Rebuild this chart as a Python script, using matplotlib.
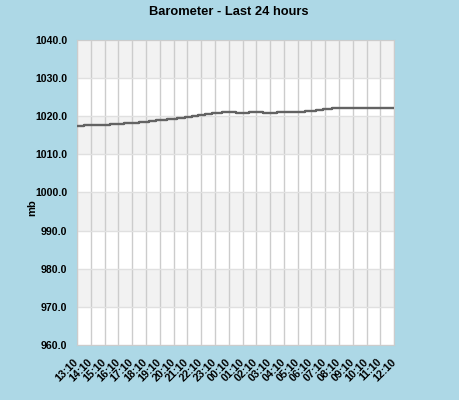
import matplotlib
matplotlib.use("Agg")
import matplotlib.pyplot as plt

# hours since 13:10 and pressure (mb)
hours = [0, 0.5, 2.4, 3.4, 4.5, 5.2, 5.75, 6.5, 7.25, 7.85, 8.35, 8.8, 9.3, 9.8,
         10.5, 11.5, 12.5, 13.5, 14.5, 16.5, 17.3, 17.8, 18.5, 23]
pressure = [1017.5, 1017.8, 1018.0, 1018.3, 1018.6, 1018.8, 1019.1, 1019.4, 1019.6,
            1019.9, 1020.1, 1020.4, 1020.7, 1020.9, 1021.2, 1020.9, 1021.2, 1020.9,
            1021.2, 1021.4, 1021.7, 1022.0, 1022.2, 1022.2]

tick_labels = ["13:10", "14:10", "15:10", "16:10", "17:10", "18:10", "19:10", "20:10",
               "21:10", "22:10", "23:10", "00:10", "01:10", "02:10", "03:10", "04:10",
               "05:10", "06:10", "07:10", "08:10", "09:10", "10:10", "11:10", "12:10"]
y_ticks = [960, 970, 980, 990, 1000, 1010, 1020, 1030, 1040]

plt.rcParams["font.family"] = ["Liberation Sans", "DejaVu Sans"]
plt.rcParams["font.weight"] = "bold"

bg = "#add8e6"
fig = plt.figure(figsize=(4.6, 4.0), dpi=100, facecolor=bg)
ax = fig.add_axes([0.1674, 0.1375, 0.857 - 0.1674, 0.9 - 0.1375])
ax.set_facecolor("white")

# alternating bands, grey from 970 upward every other 10 mb
for i, lo in enumerate(y_ticks[:-1]):
    if i % 2 == 0:
        continue
    ax.axhspan(lo, lo + 10, color="#f2f2f2", zorder=0, lw=0)
ax.set_xlim(0, len(tick_labels) - 1)
ax.set_ylim(960, 1040)

ax.set_xticks(range(len(tick_labels)))
ax.set_xticklabels(tick_labels, rotation=45, ha="right", va="center",
                   rotation_mode="anchor", fontsize=7.8, fontweight="bold")
ax.set_yticks(y_ticks)
ax.set_yticklabels([f"{v:.1f}" for v in y_ticks], fontsize=7.6, fontweight="bold")
ax.tick_params(axis="both", length=0)
ax.tick_params(axis="y", pad=7)
ax.tick_params(axis="x", pad=11)

ax.grid(axis="x", color="#cccccc", lw=1)
ax.grid(axis="y", color="#e0e0e0", lw=1)
ax.set_axisbelow(True)
for s in ax.spines.values():
    s.set_color("#cccccc")

ax.plot(hours, pressure, drawstyle="steps-post", color="#636363", lw=1.7, zorder=3)

fig.text(0.498, 0.97, "Barometer - Last 24 hours", ha="center", va="center",
         fontsize=9.3, fontweight="bold")
fig.text(0.07, 0.48, "mb", rotation=90, ha="center", va="center",
         fontsize=8, fontweight="bold")

fig.savefig("out.png", dpi=100, facecolor=bg)
